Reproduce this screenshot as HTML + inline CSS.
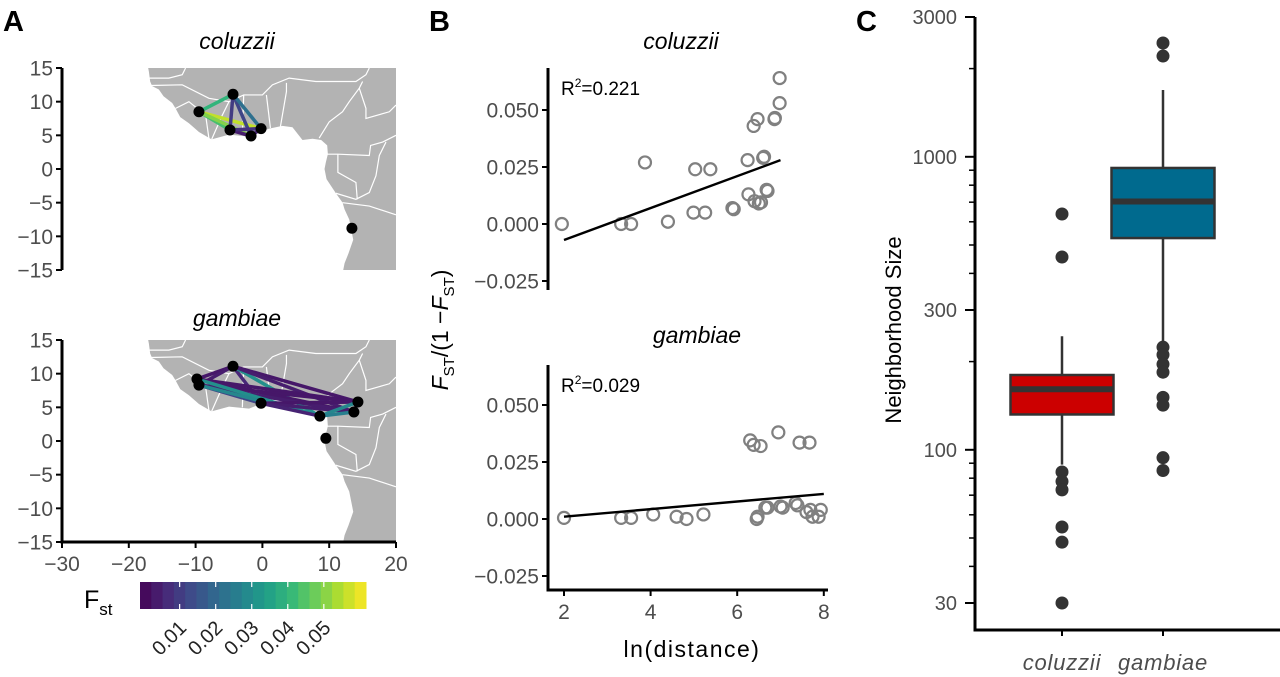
<!DOCTYPE html>
<html><head><meta charset="utf-8"><style>
html,body{margin:0;padding:0;background:#fff;}
svg{display:block;font-family:"Liberation Sans",sans-serif;}
</style></head><body>
<svg id="fig" width="1280" height="677" viewBox="0 0 1280 677">
<text x="3" y="31" font-size="29" font-weight="bold">A</text>
<text x="429" y="31" font-size="29" font-weight="bold">B</text>
<text x="856" y="31" font-size="29" font-weight="bold">C</text>
<text x="237" y="49" font-size="23" font-style="italic" text-anchor="middle">coluzzii</text>
<text x="237" y="326" font-size="23" font-style="italic" text-anchor="middle">gambiae</text>
<text x="681" y="49" font-size="23" font-style="italic" text-anchor="middle">coluzzii</text>
<text x="697" y="343" font-size="23" font-style="italic" text-anchor="middle">gambiae</text>
<text transform="translate(448,330) rotate(-90)" font-size="23" text-anchor="middle"><tspan font-style="italic">F</tspan><tspan font-size="15" dy="6">ST</tspan><tspan dy="-6">/(1 −</tspan><tspan font-style="italic">F</tspan><tspan font-size="15" dy="6">ST</tspan><tspan dy="-6">)</tspan></text>
<text x="692" y="657" font-size="23" text-anchor="middle" letter-spacing="1.5">ln(distance)</text>
<text transform="translate(901,330) rotate(-90)" font-size="22" text-anchor="middle">Neighborhood Size</text>
<text x="84" y="608" font-size="25">F<tspan font-size="17" dy="7">st</tspan></text>
<g id="gA"></g><g id="gB"></g><g id="gC"></g>
</svg>
<script>
// ---------- data ----------
const colSites=[[-9.5,8.5],[-4.4,11.1],[-4.85,5.8],[-1.7,4.9],[-0.2,6.0],[13.4,-8.8]];
const colEdges=[[0,1,0.040],[0,2,0.043],[0,4,0.056],[0,3,0.050],[1,2,0.010],[1,3,0.012],[1,4,0.022],[2,3,0.004],[2,4,0.008],[3,4,0.005]];
const gamSites=[[-9.8,9.2],[-9.5,8.3],[-4.4,11.1],[-0.2,5.6],[8.6,3.7],[9.5,0.4],[14.3,5.8],[13.7,4.3]];
const gamEdges=[[0,2,0.003],[1,2,0.004],[2,3,0.006],[2,4,0.030],[2,6,0.003],[2,7,0.004],[0,6,0.003],[1,6,0.003],[0,7,0.003],[1,7,0.004],[1,3,0.012],[0,4,0.030],[1,4,0.028],[3,6,0.003],[3,7,0.004],[3,4,0.005],[4,6,0.028],[4,7,0.026],[6,7,0.003]];
const lonTicks=[-30,-20,-10,0,10,20];
const latTicks=[15,10,5,0,-5,-10,-15];
const fstTicks=[0.01,0.02,0.03,0.04,0.05];

const colX=[1.95,3.32,3.55,3.87,4.4,4.99,5.03,5.26,5.38,5.89,5.92,6.24,6.26,6.38,6.47,6.6,6.62,6.68,6.7,6.4,6.5,6.55,6.86,6.87,6.98,6.98];
const colY=[0.000,0.000,0.000,0.027,0.001,0.005,0.024,0.005,0.024,0.007,0.0065,0.028,0.013,0.043,0.046,0.029,0.0295,0.015,0.0145,0.010,0.009,0.0095,0.046,0.0465,0.053,0.064];
const colFit=[[2,-0.007],[7,0.028]];
const gamX=[2.0,3.32,3.55,4.06,4.6,4.83,5.22,6.3,6.38,6.54,6.95,7.44,7.67,6.47,6.45,6.65,7.0,7.05,7.35,7.39,7.69,7.74,7.93,7.88,6.7,7.6];
const gamY=[0.0005,0.0005,0.0005,0.002,0.001,0.000,0.002,0.0345,0.0325,0.032,0.038,0.0335,0.0335,0.001,0.0,0.005,0.0055,0.005,0.007,0.006,0.004,0.001,0.004,0.001,0.005,0.003];
const gamFit=[[2,0.001],[8,0.011]];
const bTicksY=[0.050,0.025,0.000,-0.025];
const bTicksX=[2,4,6,8];

const boxCats=['coluzzii','gambiae'];
const boxLow=[89,233];
const boxQ1=[132,528];
const boxMed=[161,704];
const boxQ3=[180,916];
const boxHigh=[244,1690];
const boxFill=['#cc0000','#006a8e'];
const outCol=[638,455,84,78,73,54.5,48.4,30];
const outGam=[2445,2207,224,211,196,184,151,142,94,85];
const cMajor=[3000,1000,300,100,30];
const cMinor=[2000,900,800,700,600,500,400,200,90,80,70,60,50,40];

// ---------- helpers ----------
const NS='http://www.w3.org/2000/svg';
function mk(parent,tag,attrs){const e=document.createElementNS(NS,tag);for(const k in attrs)e.setAttribute(k,attrs[k]);parent.appendChild(e);return e;}
const vir=[[68,1,84],[72,40,120],[62,74,137],[49,104,142],[38,130,142],[31,158,137],[53,183,121],[109,205,89],[180,222,44],[253,231,37]];
function viridis(t){t=Math.max(0,Math.min(1,t));const p=t*9,i=Math.min(8,Math.floor(p)),f=p-i;const a=vir[i],b=vir[i+1];return 'rgb('+a.map((v,k)=>Math.round(v+(b[k]-v)*f)).join(',')+')';}
const fMin=-0.001,fMax=0.0617;
function fCol(v){return viridis((v-fMin)/(fMax-fMin));}
const TICK='#4d4d4d';

// ---------- Panel A ----------
const gA=document.getElementById('gA');
const land=[[-17.1,15],[-17,14.5],[-16.8,13],[-16.5,12.3],[-15.5,11.8],[-14.8,10.8],[-13.5,9.8],[-13,9],[-12.3,7.7],[-11,6.8],[-9.5,5.5],[-7.6,4.4],[-5,5.1],[-2,4.8],[1,6],[3,6.4],[4.5,6.2],[6,4.3],[7.5,4.5],[8.8,4.3],[9.7,3.5],[9.8,2.2],[9.5,1],[9.3,0],[9.6,-1.5],[11,-3.6],[12,-5],[12.3,-6],[13,-7.5],[13.3,-9],[13.6,-10.5],[12.9,-12.5],[12.3,-14],[12.1,-15],[20,-15],[20,15]];
const borders=[[[-16.7,12.4],[-12,12.5],[-8,10.5],[-5,10],[-2.8,11],[0,11],[1.5,12.5],[4,13.5],[8,13],[14,13],[15.5,14],[16,15]],
[[-13,9],[-11,10],[-8.5,8],[-8,4.5]],[[-5,10],[-6,8],[-7.6,4.4]],[[-3,5],[-2.8,11]],[[1.2,6.1],[0.6,11]],[[2.7,6.3],[3.6,11.5],[3.6,12.8]],
[[8.5,4.6],[10,7],[12,8.5],[13,10],[14.5,12],[15,13]],[[9.7,2.2],[11.3,2.2],[16,2],[16.2,3.5],[18,4],[20,5]],[[14.5,12],[15.5,9],[15.5,7.5],[19,8.5],[20,9.5]],
[[11,-3.6],[14,-4.5],[16,-3.5],[17,-1],[17.5,2],[18.5,4]],[[12,-5],[16,-5.5],[20,-6.8]],[[11.3,2.2],[11.3,-0.5],[14,-2],[14.2,-4.5]],[[-17,13.5],[-14,13.5],[-12,14],[-11.5,15]]];
function drawMap(top,sites,edges,withX){
  const x0=62,x1=396,y0=top,y1=top+202;
  const px=lon=>x0+(lon+30)/50*(x1-x0);
  const py=lat=>y0+(15-lat)/30*(y1-y0);
  const g=mk(gA,'g',{});
  
  
  const lp=mk(g,'polygon',{points:land.map(p=>px(p[0])+','+py(p[1])).join(' '),fill:'#b3b3b3'});
  
  
  borders.forEach(b=>{const l=mk(g,'polyline',{points:b.map(p=>px(p[0])+','+py(p[1])).join(' '),fill:'none',stroke:'#fff','stroke-width':1.2});
    
    });
  edges.forEach(e=>{const a=sites[e[0]],b=sites[e[1]];
    const l=mk(g,'line',{x1:px(a[0]),y1:py(a[1]),x2:px(b[0]),y2:py(b[1]),stroke:fCol(e[2]),'stroke-width':3.5});
    
    });
  sites.forEach(s=>{const c=mk(g,'circle',{cx:px(s[0]),cy:py(s[1]),r:5.5,fill:'#000'});
    
    });
  mk(g,'line',{x1:x0,y1:y0,x2:x0,y2:y1+(withX?1.5:0),stroke:'#000','stroke-width':3});
  latTicks.forEach(t=>{mk(g,'line',{x1:x0-6,y1:py(t),x2:x0,y2:py(t),stroke:'#000','stroke-width':2});
    const tx=mk(g,'text',{x:x0-9,y:py(t)+7.5,'font-size':21,fill:TICK,'text-anchor':'end'});tx.textContent=(t<0?'−'+(-t):t);
    
    });
  if(withX){
    mk(g,'line',{x1:x0-1.5,y1:y1,x2:x1,y2:y1,stroke:'#000','stroke-width':3});
    lonTicks.forEach(t=>{mk(g,'line',{x1:px(t),y1:y1,x2:px(t),y2:y1+6,stroke:'#000','stroke-width':2});
      const tx=mk(g,'text',{x:px(t),y:y1+29,'font-size':21,fill:TICK,'text-anchor':'middle'});tx.textContent=(t<0?'−'+(-t):t);
      
      });
  }
}
drawMap(68,colSites,colEdges,false);
drawMap(340,gamSites,gamEdges,true);
// colorbar
(function(){
  const x0=140,x1=366,y0=582,y1=609,n=20;
  const g=mk(gA,'g',{});
  
  
  const vx=v=>x0+(v-fMin)/(fMax-fMin)*(x1-x0);
  for(let i=0;i<n;i++){const a=x0+(x1-x0)*i/n;mk(g,'rect',{x:a,y:y0,width:(x1-x0)/n+0.5,height:y1-y0,fill:viridis((i+0.5)/n)});}
  fstTicks.forEach(t=>{const x=vx(t);
    mk(g,'line',{x1:x,y1:y0,x2:x,y2:y0+5,stroke:'#fff','stroke-width':1.2});
    mk(g,'line',{x1:x,y1:y1-5,x2:x,y2:y1,stroke:'#fff','stroke-width':1.2});
    const tx=mk(g,'text',{transform:'translate('+(x+8)+','+(y1+20)+') rotate(-45)','font-size':20,fill:'#222','text-anchor':'end'});tx.textContent=t.toFixed(2);
    
    });
})();

// ---------- Panel B ----------
const gB=document.getElementById('gB');
const bx=v=>564+(v-2)*43.3;
function drawScatter(zeroY,top,bottom,xs,ys,fit,r2,name,withX){
  const yy=v=>zeroY-v*2280;
  const g=mk(gB,'g',{});
  
  
  mk(g,'line',{x1:548,y1:top,x2:548,y2:bottom+(withX?1.5:0),stroke:'#000','stroke-width':3});
  bTicksY.forEach(t=>{mk(g,'line',{x1:542,y1:yy(t),x2:548,y2:yy(t),stroke:'#000','stroke-width':2});
    const tx=mk(g,'text',{x:539,y:yy(t)+7.5,'font-size':21,fill:TICK,'text-anchor':'end'});tx.textContent=(t<0?'−'+(-t).toFixed(3):t.toFixed(3));
    
    });
  if(withX){
    mk(g,'line',{x1:546.5,y1:bottom,x2:828,y2:bottom,stroke:'#000','stroke-width':3});
    bTicksX.forEach(t=>{mk(g,'line',{x1:bx(t),y1:bottom,x2:bx(t),y2:bottom+6,stroke:'#000','stroke-width':2});
      const tx=mk(g,'text',{x:bx(t),y:bottom+29,'font-size':21,fill:TICK,'text-anchor':'middle'});tx.textContent=t;
      
      });
  }
  xs.forEach((x,i)=>{const c=mk(g,'circle',{cx:bx(x),cy:yy(ys[i]),r:6,fill:'none',stroke:'#808080','stroke-width':2.2});
    
    });
  const l=mk(g,'line',{x1:bx(fit[0][0]),y1:yy(fit[0][1]),x2:bx(fit[1][0]),y2:yy(fit[1][1]),stroke:'#000','stroke-width':2.4});
  
  
  const tx=mk(g,'text',{x:561,y:top+27,'font-size':19,fill:'#000'});
  tx.innerHTML='R<tspan font-size="12" dy="-8">2</tspan><tspan dy="8">=' + r2 + '</tspan>';
  
  
}
drawScatter(224,68,290,colX,colY,colFit,'0.221','scatter-coluzzii',false);
drawScatter(519,365,590,gamX,gamY,gamFit,'0.029','scatter-gambiae',true);

// ---------- Panel C ----------
const gC=document.getElementById('gC');
const cy=v=>603-(Math.log10(v)-Math.log10(30))*293;
const catX=[1062,1163];
(function(){
  const g=mk(gC,'g',{});
  
  
  mk(g,'line',{x1:975,y1:17,x2:975,y2:631.5,stroke:'#000','stroke-width':3});
  mk(g,'line',{x1:973.5,y1:630,x2:1280,y2:630,stroke:'#000','stroke-width':3});
  cMajor.forEach(t=>{mk(g,'line',{x1:965,y1:cy(t),x2:975,y2:cy(t),stroke:'#000','stroke-width':2});
    const tx=mk(g,'text',{x:957,y:cy(t)+7,'font-size':20,fill:TICK,'text-anchor':'end'});tx.textContent=t;
    
    });
  cMinor.forEach(t=>mk(g,'line',{x1:969,y1:cy(t),x2:975,y2:cy(t),stroke:'#000','stroke-width':1.5}));
  boxCats.forEach((c,i)=>{const x=catX[i];
    mk(g,'line',{x1:x,y1:630,x2:x,y2:636,stroke:'#000','stroke-width':2});
    const tx=mk(g,'text',{x:x,y:670,'font-size':22,'font-style':'italic',fill:TICK,'text-anchor':'middle','letter-spacing':0.8});tx.textContent=c;
    
    
    const w=mk(g,'line',{x1:x,y1:cy(boxHigh[i]),x2:x,y2:cy(boxLow[i]),stroke:'#333','stroke-width':2.5});
    
    
    const r=mk(g,'rect',{x:x-51.5,y:cy(boxQ3[i]),width:103,height:cy(boxQ1[i])-cy(boxQ3[i]),fill:boxFill[i],stroke:'#333','stroke-width':2.5});
    
    
    const m=mk(g,'line',{x1:x-51.5,y1:cy(boxMed[i]),x2:x+51.5,y2:cy(boxMed[i]),stroke:'#333','stroke-width':6});
    
    
    (i===0?outCol:outGam).forEach(v=>{const o=mk(g,'circle',{cx:x,cy:cy(v),r:6.5,fill:'#333'});
      
      });
  });
})();
</script>
</body></html>
